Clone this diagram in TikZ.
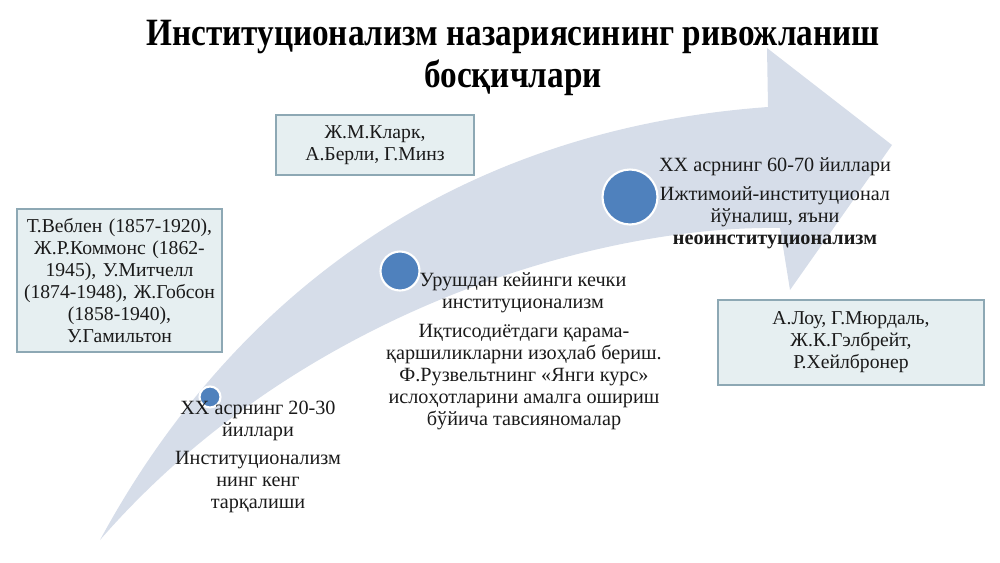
\documentclass[tikz,border=0pt]{standalone}
\usepackage{fontspec}
\setmainfont{Liberation Serif}
\newfontfamily\titlefont{Liberation Serif}[FakeStretch=0.86]
\usepackage{tikz}

\definecolor{arrowgrey}{HTML}{D6DDE9}
\definecolor{dotblue}{HTML}{4F81BD}
\definecolor{boxfill}{HTML}{E6EFF1}
\definecolor{boxline}{HTML}{8DA8B4}
\definecolor{inktext}{HTML}{1A1A1A}

\tikzset{
    namebox/.style={draw=boxline, line width=0.8pt, fill=boxfill, align=center,
        text=inktext, inner sep=0pt, font=\fontsize{11.2}{12.5}\selectfont},
    stagedot/.style={circle, fill=dotblue, draw=white, line width=1.2pt, inner sep=0pt},
    stagetext/.style={align=center, text=inktext, inner sep=0pt,
        font=\fontsize{11.5}{12.6}\selectfont}
}

\begin{document}
\begin{tikzpicture}[x=0.02cm, y=-0.02cm]

    \useasboundingbox (0,0) rectangle (1000,562);

    \fill[arrowgrey] (100,540) .. controls (230,300) and (450,130) .. (768,107)
        -- (767,48) -- (892,145) -- (790,290) -- (780,228)
        .. controls (600,225) and (300,310) .. (100,540) -- cycle;

    \node[align=center, text=black, font=\titlefont\bfseries\fontsize{22}{24}\selectfont]
        (T) at (513,58) {Институционализм назариясининг ривожланиш\\босқичлари};

    \node[namebox, minimum width=4.1cm, text width=4cm, minimum height=2.86cm]
        (B1) at (119.5,280.5) {Т.Веблен (1857-1920),\\Ж.Р.Коммонс (1862-\\1945), У.Митчелл\\(1874-1948), Ж.Гобсон\\(1858-1940),\\У.Гамильтон};
    \node[namebox, minimum width=3.96cm, minimum height=1.2cm]
        (B2) at (375,145) {Ж.М.Кларк,\\А.Берли, Г.Минз};
    \node[namebox, minimum width=5.32cm, minimum height=1.7cm]
        (B3) at (851,342.5) {А.Лоу, Г.Мюрдаль,\\Ж.К.Гэлбрейт,\\Р.Хейлбронер};

    \node[stagedot, minimum size=0.42cm] (D1) at (210,397) {};
    \node[stagedot, minimum size=0.78cm] (D2) at (400,271) {};
    \node[stagedot, minimum size=1.1cm] (D3) at (630,197) {};

    \node[stagetext] (S1) at (258,421) {XX асрнинг 20-30\\йиллари};
    \node[stagetext] (S1b) at (258,482) {Институционализм\\нинг кенг\\тарқалиши};
    \node[stagetext] (S2) at (523,293) {Урушдан кейинги кечки\\институционализм};
    \node[stagetext] (S2b) at (524,377) {Иқтисодиётдаги қарама-\\қаршиликларни изоҳлаб бериш.\\Ф.Рузвельтнинг «Янги курс»\\ислоҳотларини амалга ошириш\\бўйича тавсияномалар};
    \node[stagetext] (S3) at (775,167) {XX асрнинг 60-70 йиллари};
    \node[stagetext] (S3b) at (775,218) {Ижтимоий-институционал\\йўналиш, яъни\\\textbf{неоинституционализм}};

\end{tikzpicture}
\end{document}
